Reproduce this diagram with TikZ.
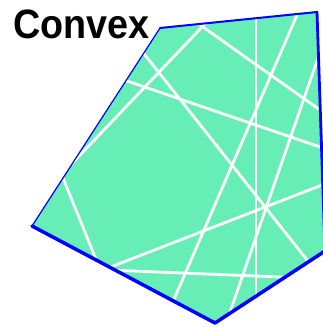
\documentclass[tikz,border=0pt]{standalone}
\usepackage{fontspec}
\setmainfont{Liberation Sans}
\definecolor{ConvexFill}{RGB}{102,238,182}
\definecolor{EdgeBlue}{RGB}{0,0,255}
\usetikzlibrary{calc}

\begin{document}
\begin{tikzpicture}[x=1pt,y=-1pt,
  cut/.style={draw=white,line width=2.8pt,shorten <=-25pt,shorten >=-25pt},
  edge/.style={draw=EdgeBlue,line cap=round,line join=round},
  lab/.style={font=\fontsize{41}{41}\selectfont\bfseries,inner sep=0pt,anchor=base west,xscale=0.92}
]
\useasboundingbox (0,0) rectangle (322,327);
% corners of the region
\coordinate (tl) at (160,28);
\coordinate (tr) at (317,12);
\coordinate (rr) at (325,251);
\coordinate (bb) at (215,323);
\coordinate (ll) at (32,226);
\fill[ConvexFill] (tl) -- (tr) -- (rr) -- (bb) -- (ll) -- cycle;
% white cuts, clipped to the region
\begin{scope}
  \clip (tl) -- (tr) -- (rr) -- (bb) -- (ll) -- cycle;
  \draw[cut] (145,55) -- (307,260);
  \draw[cut] (130,82) -- (320,147);
  \draw[cut] (82,153) -- (202,27);
  \draw[cut] (203,27) -- (320,110);
  \draw[cut] (297,15) -- (175,297);
  \draw[cut] (318,58) -- (230,312);
  \draw[cut] (108,268) -- (322,185);
  \draw[cut] (108,270) -- (280,277);
  \draw[cut] (256,10) -- (256,300);
  \draw[cut] (63,178) -- (95,257);
\end{scope}
% border
\draw[edge,line width=1.2pt] (ll) -- (tl);
\draw[edge,line width=2pt] (tl) -- (tr);
\draw[edge,line width=2.8pt] (tr) -- (rr);
\draw[edge,line width=3.5pt] (rr) -- (bb) -- (ll);
\node[lab] (title) at (13,38.5) {Convex};
\end{tikzpicture}
\end{document}
